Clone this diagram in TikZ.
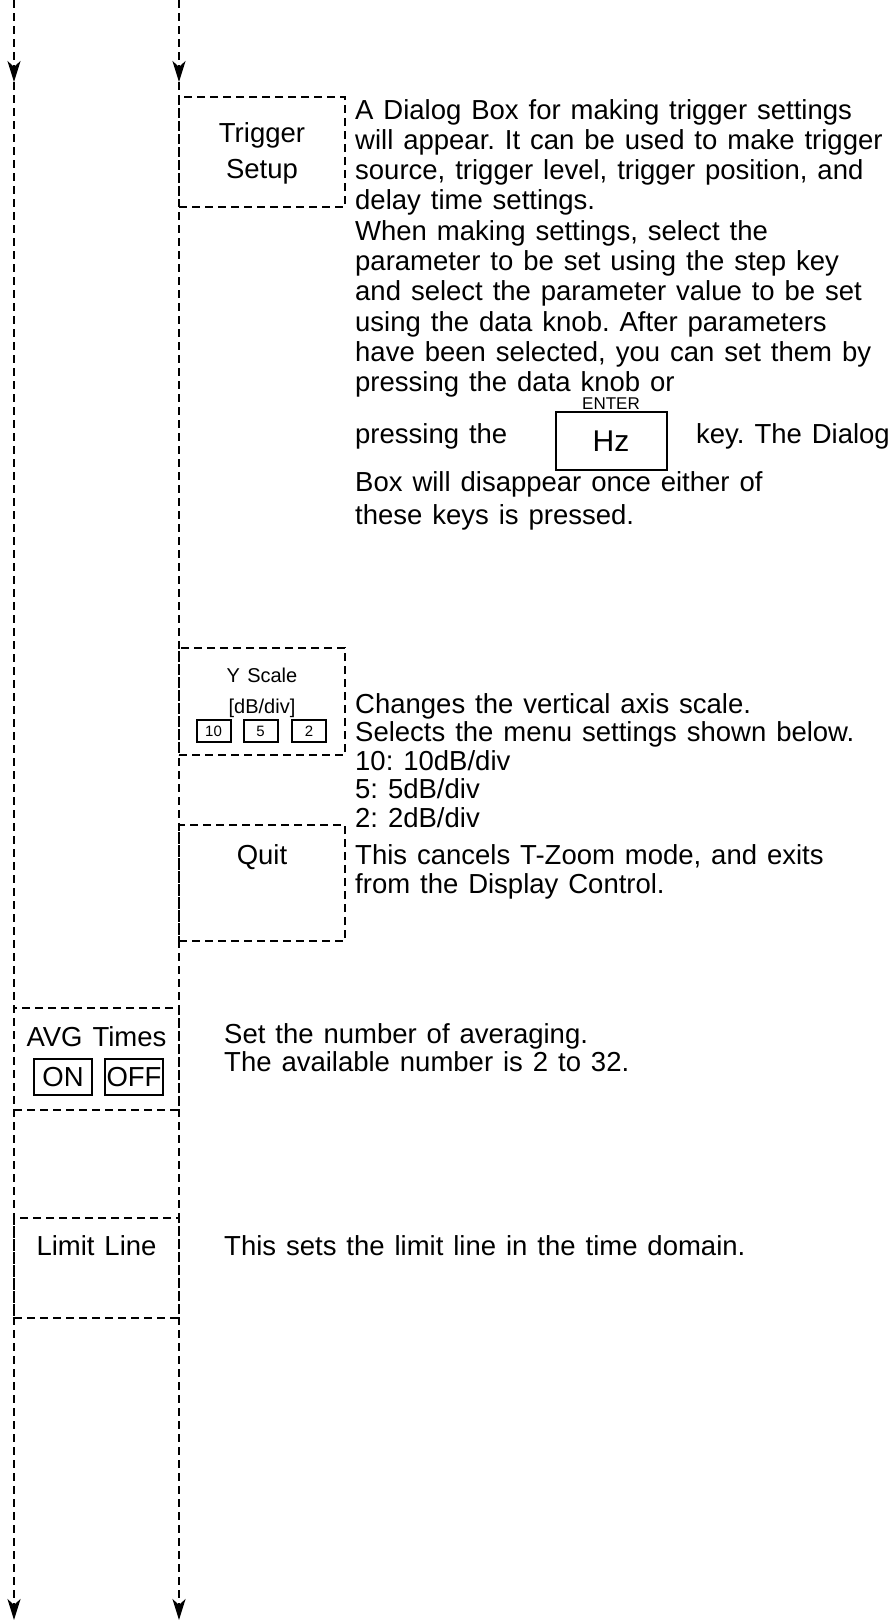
\documentclass[tikz,border=0pt]{standalone}
\usepackage{fontspec}
\setmainfont{Liberation Sans}[WordSpace=1.3]
\usetikzlibrary{arrows.meta}
\newcommand{\txtsize}{\fontsize{27.5}{30}\selectfont}
\newcommand{\smallsize}{\fontsize{20}{22}\selectfont}
\tikzset{
  flow/.style={line width=2.4pt, dash pattern=on 8pt off 5pt,
    -{Stealth[length=21pt,width=13pt,inset=6pt]}},
  menubox/.style={draw, line width=2.4pt, dash pattern=on 8pt off 5pt,
    minimum width=165pt, inner sep=0pt},
  keybox/.style={draw, line width=2pt, inner sep=0pt},
  lbl/.style={inner sep=0pt, font=\txtsize},
  desc/.style={lbl, anchor=base west},
}
\frenchspacing
\begin{document}
\begin{tikzpicture}[x=1pt,y=-1pt]
    \useasboundingbox (0,0) rectangle (893,1620);

    % flow lines, left and right
    \coordinate (ltop) at (14,0);
    \coordinate (larr) at (14,82);
    \coordinate (lbot) at (14,1620);
    \coordinate (rtop) at (179,0);
    \coordinate (rarr) at (179,82);
    \coordinate (rbot) at (179,1620);
    \draw[flow] (ltop) -- (larr);
    \draw[flow] (larr) -- (lbot);
    \draw[flow] (rtop) -- (rarr);
    \draw[flow] (rarr) -- (rbot);

    % Trigger Setup
    \node[menubox, minimum width=166pt, minimum height=110pt] (trig) at (262,152) {};
    \node[lbl, anchor=base] (trigA) at (262,142) {Trigger};
    \node[lbl, anchor=base] (trigB) at (262,178) {Setup};
    \foreach \t [count=\i] in {A Dialog Box for making trigger settings,
        will appear. It can be used to make trigger,
        {source, trigger level, trigger position, and},
        delay time settings.,
        {When making settings, select the},
        parameter to be set using the step key,
        and select the parameter value to be set,
        using the data knob. After parameters,
        {have been selected, you can set them by},
        pressing the data knob or} {
      \node[desc] (trigd\i) at (355,{119+30.3*(\i-1)}) {\t};
    }
    \node[keybox, minimum width=111pt, minimum height=58pt,
      font=\fontsize{30}{30}\selectfont] (hz) at (611,441) {Hz};
    \node[lbl, anchor=south, font=\fontsize{17}{17}\selectfont, yshift=1pt] (enter) at (hz.north) {ENTER};
    \node[desc] (press) at (355,443) {pressing the};
    \node[desc] (keyd) at (696,443) {key. The Dialog};
    \node[desc] (boxd) at (355,491) {Box will disappear once either of};
    \node[desc] (keysd) at (355,524) {these keys is pressed.};

    % Y Scale with 10 / 5 / 2 keys
    \node[menubox, minimum width=166pt, minimum height=107pt] (ysc) at (262,701.5) {};
    \node[lbl, anchor=base, font=\smallsize] (yscA) at (262,682) {Y Scale};
    \node[lbl, anchor=base, font=\smallsize] (yscB) at (262,713) {[dB/div]};
    \foreach \k/\xc in {10/213.5,5/260.5,2/309} {
      \node[keybox, minimum width=34pt, minimum height=22pt,
        font=\fontsize{15}{15}\selectfont] (key\k) at (\xc,731) {\k};
    }
    \foreach \t [count=\i] in {Changes the vertical axis scale.,
        Selects the menu settings shown below.,
        10: 10dB/div, 5: 5dB/div, 2: 2dB/div} {
      \node[desc] (yscd\i) at (355,{713+28.5*(\i-1)}) {\t};
    }

    % Quit
    \node[menubox, minimum width=166pt, minimum height=116pt] (quit) at (262,883) {};
    \node[lbl, anchor=base] (quitA) at (262,864) {Quit};
    \node[desc] (quitd1) at (355,864) {This cancels T-Zoom mode, and exits};
    \node[desc] (quitd2) at (355,893) {from the Display Control.};

    % AVG Times with ON / OFF keys
    \node[menubox, minimum height=102pt] (avg) at (96.5,1059) {};
    \node[lbl, anchor=base] (avgA) at (96.5,1046) {AVG Times};
    \node[keybox, minimum width=58pt, minimum height=36pt, font=\txtsize] (kon) at (63,1077) {ON};
    \node[keybox, minimum width=58pt, minimum height=36pt, font=\txtsize] (koff) at (134,1077) {OFF};
    \node[desc] (avgd1) at (224,1043) {Set the number of averaging.};
    \node[desc] (avgd2) at (224,1071) {The available number is 2 to 32.};

    % Limit Line
    \node[menubox, minimum height=100pt] (lim) at (96.5,1268) {};
    \node[lbl, anchor=base] (limA) at (96.5,1255) {Limit Line};
    \node[desc] (limd) at (224,1255) {This sets the limit line in the time domain.};
\end{tikzpicture}
\end{document}
